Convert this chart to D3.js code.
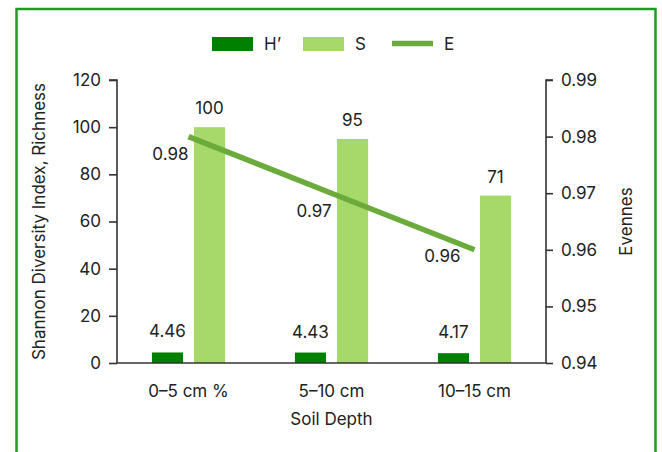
<!DOCTYPE html>
<html>
<head>
<meta charset="utf-8">
<script src="https://cdn.jsdelivr.net/npm/d3@7"></script>
<style>
  html, body { margin: 0; padding: 0; background: #fff; }
  svg text { font-family: Inter, "Noto Sans", sans-serif; fill: #222; }
</style>
</head>
<body>
<svg id="chart" width="662" height="452"></svg>
<script>
// Soil depth layers
const categories = ["0–5 cm %", "5–10 cm", "10–15 cm"];
// Shannon diversity index H'
const shannon = [4.46, 4.43, 4.17];
// Species richness S
const richness = [100, 95, 71];
// Evenness E (right axis)
const evenness = [0.98, 0.97, 0.96];
// Axis ticks
const leftTicks = [0, 20, 40, 60, 80, 100, 120];
const rightTicks = [0.94, 0.95, 0.96, 0.97, 0.98, 0.99];

const colH = "#008000", colS = "#a6d96a", colE = "#6bab3c";

const svg = d3.select("#chart");

// frame
svg.append("rect")
  .attr("x", 16.5).attr("y", 9)
  .attr("width", 639).attr("height", 480)
  .attr("fill", "none").attr("stroke", "#229922").attr("stroke-width", 2.5);

const plotL = 117, plotR = 546, plotT = 80, plotB = 363;

const x = d3.scaleBand().domain(categories).range([plotL, plotR]).padding(0);
const xs = d3.scaleBand().domain(["H", "S"]).range([0, x.bandwidth()])
  .paddingInner(0.26).paddingOuter(0.83);
const yL = d3.scaleLinear().domain([0, 120]).range([plotB, plotT]);
const yR = d3.scaleLinear().domain([0.94, 0.99]).range([plotB, plotT]);

// bars
const g = svg.append("g");
const groups = g.selectAll("g.cat").data(categories).join("g")
  .attr("transform", d => `translate(${x(d)},0)`);

groups.append("rect")
  .attr("x", xs("H")).attr("width", xs.bandwidth())
  .attr("y", (d, i) => yL(shannon[i]))
  .attr("height", (d, i) => yL(0) - yL(shannon[i]))
  .attr("fill", colH);

groups.append("rect")
  .attr("x", xs("S")).attr("width", xs.bandwidth())
  .attr("y", (d, i) => yL(richness[i]))
  .attr("height", (d, i) => yL(0) - yL(richness[i]))
  .attr("fill", colS);

groups.append("text")
  .attr("x", xs("H") + xs.bandwidth() / 2)
  .attr("y", (d, i) => yL(shannon[i]) - 15)
  .attr("text-anchor", "middle").attr("font-size", 17)
  .text((d, i) => shannon[i].toFixed(2));

groups.append("text")
  .attr("x", xs("S") + xs.bandwidth() / 2)
  .attr("y", (d, i) => yL(richness[i]) - 13)
  .attr("text-anchor", "middle").attr("font-size", 17)
  .text((d, i) => richness[i]);

// axes
const axisL = svg.append("g").attr("transform", `translate(${plotL},0)`)
  .call(d3.axisLeft(yL).tickValues(leftTicks).tickSize(8).tickPadding(8));
const axisR = svg.append("g").attr("transform", `translate(${plotR},0)`)
  .call(d3.axisRight(yR).tickValues(rightTicks).tickSize(7).tickPadding(8).tickFormat(d3.format(".2f")));
const axisB = svg.append("g").attr("transform", `translate(0,${plotB})`)
  .call(d3.axisBottom(x).tickSize(0).tickPadding(22));

[axisL, axisR, axisB].forEach(a => {
  a.select(".domain").attr("stroke", "#333").attr("stroke-width", 1.6);
  a.selectAll(".tick line").attr("stroke", "#333").attr("stroke-width", 1.6);
  a.selectAll(".tick text").attr("font-size", 17).attr("fill", "#222")
    .style("font-family", "Inter, 'Noto Sans', sans-serif");
});
axisL.select(".domain").attr("d", `M-8,${plotT}H0V${plotB}`);
axisR.select(".domain").attr("d", `M7,${plotT}H0V${plotB}`);
axisB.select(".domain").attr("d", `M${plotL},0H${plotR}`);

// evenness line
const cx = d => x(d) + x.bandwidth() / 2;
const line = d3.line().x((d, i) => cx(categories[i])).y(d => yR(d));
svg.append("path").datum(evenness)
  .attr("d", line).attr("fill", "none")
  .attr("stroke", colE).attr("stroke-width", 5.5);

const eLabelShift = [[0, 23], [0, 24], [-14, 12]];
svg.selectAll("text.elab").data(evenness).join("text")
  .attr("class", "elab")
  .attr("x", (d, i) => cx(categories[i]) + eLabelShift[i][0])
  .attr("y", (d, i) => yR(d) + eLabelShift[i][1])
  .attr("text-anchor", "end").attr("font-size", 17)
  .text(d => d.toFixed(2));

// axis titles
svg.append("text")
  .attr("transform", `translate(45,${(plotT + plotB) / 2}) rotate(-90)`)
  .attr("text-anchor", "middle").attr("font-size", 17)
  .text("Shannon Diversity Index, Richness");
svg.append("text")
  .attr("transform", `translate(632,${(plotT + plotB) / 2}) rotate(-90)`)
  .attr("text-anchor", "middle").attr("font-size", 17)
  .text("Evennes");
svg.append("text")
  .attr("x", (plotL + plotR) / 2).attr("y", 425)
  .attr("text-anchor", "middle").attr("font-size", 17)
  .text("Soil Depth");

// legend
const legend = svg.append("g");
const legendItems = [
  { key: "H’", color: colH, kind: "rect", x: 212 },
  { key: "S", color: colS, kind: "rect", x: 303 },
  { key: "E", color: colE, kind: "line", x: 392 }
];
legendItems.forEach(it => {
  if (it.kind === "rect") {
    legend.append("rect").attr("x", it.x).attr("y", 37)
      .attr("width", 41).attr("height", 14).attr("fill", it.color);
  } else {
    legend.append("line").attr("x1", it.x).attr("x2", it.x + 41)
      .attr("y1", 43.5).attr("y2", 43.5)
      .attr("stroke", it.color).attr("stroke-width", 5.5);
  }
  legend.append("text").attr("x", it.x + 52).attr("y", 50)
    .attr("font-size", 17).text(it.key);
});
</script>
</body>
</html>
